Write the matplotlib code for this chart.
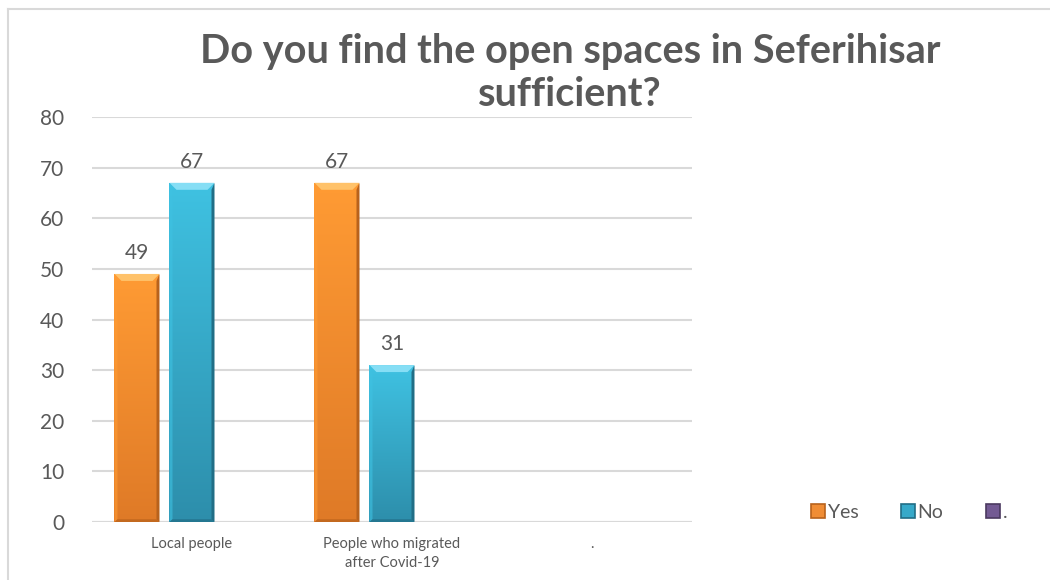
import numpy as np
import matplotlib
matplotlib.use("Agg")
import matplotlib.pyplot as plt
from matplotlib.patches import Polygon, Patch
from matplotlib.lines import Line2D
from matplotlib.colors import LinearSegmentedColormap

# ---- data ----
categories = ["Local people", "People who migrated\nafter Covid-19", "."]
series_names = ["Yes", "No", "."]
yes_values = [49, 67, np.nan]
no_values = [67, 31, np.nan]
dot_values = [np.nan, np.nan, np.nan]
y_ticks = [0, 10, 20, 30, 40, 50, 60, 70, 80]
title_lines = ["Do you find the open spaces in Seferihisar", "sufficient?"]

# ---- style ----
TEXT = "#595959"
GRID = "#d9d9d9"
FONT = ["Lato", "DejaVu Sans"]
plt.rcParams["font.family"] = FONT

palettes = {
    "Yes": dict(top="#ff9b34", bottom="#df7a27", light="#ffc26a", dark="#b8621c", side="#f08d35"),
    "No": dict(top="#3fc2e2", bottom="#2d8eab", light="#86def5", dark="#216e86", side="#36a9c9"),
    ".": dict(top="#8064a2", bottom="#604a7b", light="#a58cc4", dark="#4b3a60", side="#735a93"),
}

fig = plt.figure(figsize=(10.5, 5.8), dpi=100)
ax = fig.add_axes([92 / 1050, 1 - 522 / 580, 600 / 1050, 405 / 580])
ax.set_xlim(-0.5, len(categories) - 0.5)
ax.set_ylim(0, 80)

for s in ax.spines.values():
    s.set_visible(False)
ax.set_yticks(y_ticks)
ax.yaxis.grid(True, color=GRID, linewidth=1.5)
ax.set_axisbelow(True)
ax.tick_params(axis="y", length=0, pad=20, labelsize=15, labelcolor=TEXT)
x = np.arange(len(categories))
ax.set_xticks(x)
ax.set_xticklabels(categories, fontsize=10.5, color=TEXT, linespacing=1.45)
ax.tick_params(axis="x", length=0, pad=11)
ax.axhline(0, color=GRID, linewidth=1.5, zorder=1)

bar_w = 0.225
step = 0.275
all_values = [yes_values, no_values, dot_values]

# pixel -> data conversion helpers for the bevel size
inv = ax.transData.inverted()
def px_to_data(dx, dy):
    p0 = inv.transform((0, 0))
    p1 = inv.transform((dx, dy))
    return p1[0] - p0[0], p1[1] - p0[1]

bev_x, bev_y = px_to_data(7, 7)
edge_x, _ = px_to_data(3, 0)

for i, (name, vals) in enumerate(zip(series_names, all_values)):
    pal = palettes[name]
    vals_arr = np.array(vals, dtype=float)
    bars = ax.bar(x + (i - 1) * step, np.nan_to_num(vals_arr), width=bar_w,
                  color=pal["side"], edgecolor="none", zorder=2)
    cmap = LinearSegmentedColormap.from_list(name + "_g", [pal["bottom"], pal["top"]])
    for bar, v in zip(bars, vals_arr):
        if np.isnan(v) or v <= 0:
            continue
        x0, y0 = bar.get_x(), bar.get_y()
        w, h = bar.get_width(), bar.get_height()
        # body gradient
        grad = np.linspace(0, 1, 256).reshape(-1, 1)
        im = ax.imshow(grad, extent=(x0, x0 + w, y0, y0 + h), origin="lower",
                       cmap=cmap, aspect="auto", zorder=2.5)
        im.set_clip_path(bar)
        # bevel: top light, sides and bottom darker
        top = Polygon([(x0, y0 + h), (x0 + w, y0 + h), (x0 + w - bev_x, y0 + h - bev_y),
                       (x0 + bev_x, y0 + h - bev_y)], closed=True,
                      facecolor=pal["light"], edgecolor="none", zorder=3)
        left = Polygon([(x0, y0), (x0, y0 + h), (x0 + edge_x, y0 + h - bev_y),
                        (x0 + edge_x, y0 + bev_y * 0.4)], closed=True,
                       facecolor=pal["top"], edgecolor="none", alpha=0.6, zorder=3)
        right = Polygon([(x0 + w, y0), (x0 + w, y0 + h), (x0 + w - edge_x, y0 + h - bev_y),
                         (x0 + w - edge_x, y0 + bev_y * 0.4)], closed=True,
                        facecolor=pal["dark"], edgecolor="none", zorder=3)
        bottom = Polygon([(x0, y0), (x0 + w, y0), (x0 + w - edge_x, y0 + bev_y * 0.4),
                          (x0 + edge_x, y0 + bev_y * 0.4)], closed=True,
                         facecolor=pal["dark"], edgecolor="none", alpha=0.7, zorder=3)
        for p in (top, left, right, bottom):
            ax.add_patch(p)
        ax.annotate(f"{int(v)}", (x0 + w / 2, y0 + h), xytext=(0, 11),
                    textcoords="offset points", ha="center", va="baseline",
                    fontsize=15, color=TEXT, zorder=4)

# title, two centred lines with fixed baselines
for line, base_px in zip(title_lines, [63, 106]):
    fig.text(570 / 1050, 1 - base_px / 580, line, ha="center", va="baseline",
             fontsize=28.5, fontweight="bold", color=TEXT)

# legend
handles = [Patch(facecolor=palettes[n]["side"], edgecolor=palettes[n]["dark"], linewidth=1.2)
           for n in series_names]
fig.legend(handles, series_names, loc="center", bbox_to_anchor=(0.866, 1 - 512 / 580),
           ncol=3, frameon=False, fontsize=14, handlelength=0.7, handleheight=0.7,
           handletextpad=0.15, columnspacing=2.2, labelcolor=TEXT)

# chart-area border (top and left edges visible)
fig.add_artist(Line2D([8 / 1050, 1.0], [1 - 9 / 580, 1 - 9 / 580], color=GRID,
                      linewidth=1.5, transform=fig.transFigure))
fig.add_artist(Line2D([8 / 1050, 8 / 1050], [0, 1 - 9 / 580], color=GRID,
                      linewidth=1.5, transform=fig.transFigure))

fig.savefig("out.png", dpi=100, facecolor="white")
